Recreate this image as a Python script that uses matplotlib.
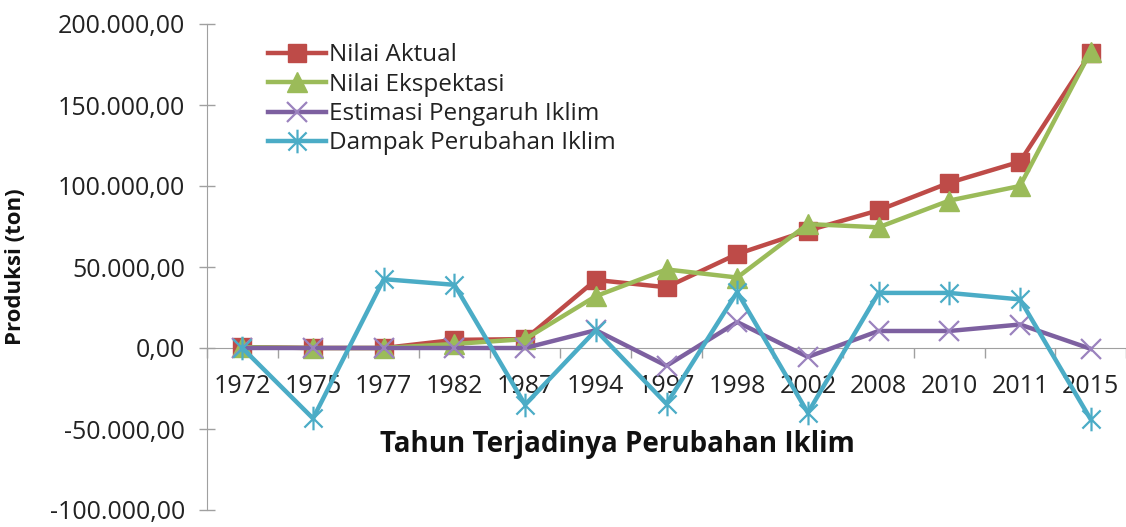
import matplotlib

matplotlib.use("Agg")
import matplotlib.pyplot as plt
from matplotlib.path import Path
from matplotlib.ticker import FixedLocator, FuncFormatter

plt.rcParams["font.family"] = ["Open Sans", "DejaVu Sans"]

years = ["1972", "1975", "1977", "1982", "1987", "1994", "1997",
         "1998", "2002", "2008", "2010", "2011", "2015"]
nilai_aktual = [500, 0, 0, 5000, 5500, 42000, 37500, 58000, 72500, 85000, 102000, 115000, 182000]
nilai_ekspektasi = [500, 0, 0, 2500, 5500, 32000, 48500, 43500, 76500, 74500, 91000, 100000, 183000]
estimasi_iklim = [0, 0, 0, 0, 0, 11000, -11000, 16000, -5500, 10500, 10500, 14500, -500]
dampak_iklim = [0, -43500, 42500, 39000, -35000, 11000, -34500, 34500, -40000, 34000, 34000, 30000, -44000]

labels = ["Nilai Aktual", "Nilai Ekspektasi", "Estimasi Pengaruh Iklim", "Dampak Perubahan Iklim"]
colors = ["#BE4B48", "#9BBB59", "#7D60A0", "#4BACC6"]

star = Path([(-1, -1), (1, 1), (-1, 1), (1, -1), (0, -1.3), (0, 1.3)],
            [Path.MOVETO, Path.LINETO, Path.MOVETO, Path.LINETO, Path.MOVETO, Path.LINETO])


def fmt(v, _):
    s = f"{abs(v):,.2f}".replace(",", "X").replace(".", ",").replace("X", ".")
    return ("-" if v < 0 else "") + s


fig = plt.figure(figsize=(11.26, 5.27), dpi=100)
ax = fig.add_axes([207 / 1126, 17 / 527, 919 / 1126, 486 / 527])

x = list(range(len(years)))
ax.plot(x, nilai_aktual, color=colors[0], lw=3.2, marker="s", ms=13, label=labels[0], zorder=3)
ax.plot(x, nilai_ekspektasi, color=colors[1], lw=3.2, marker="^", ms=14, label=labels[1], zorder=4)
ax.plot(x, estimasi_iklim, color=colors[2], lw=3.2, marker="x", ms=15, mew=1.6,
        mec="#9B82BE", label=labels[2], zorder=5)
ax.plot(x, dampak_iklim, color=colors[3], lw=3.2, marker=star, ms=17, mew=1.6,
        mec="#4BACC6", label=labels[3], zorder=6)

ax.set_xlim(-0.5, len(years) - 0.5)
ax.set_ylim(-100000, 200000)
ax.yaxis.set_major_locator(FixedLocator(range(-100000, 200001, 50000)))
ax.yaxis.set_major_formatter(FuncFormatter(fmt))

ax.set_xticks(x)
ax.set_xticklabels(years)
ax.set_xticks([i - 0.5 for i in range(len(years) + 1)], minor=True)
ax.tick_params(axis="x", which="major", length=0, pad=19, labelsize=18, colors="#222222")
ax.tick_params(axis="x", which="minor", length=7, direction="out", color="#a0a0a0", width=1)
ax.tick_params(axis="y", length=12, direction="inout", color="#a0a0a0", width=1,
               pad=10, labelsize=18, labelcolor="#222222")

for side in ["top", "right"]:
    ax.spines[side].set_visible(False)
ax.spines["left"].set_color("#a0a0a0")
ax.spines["bottom"].set_color("#a0a0a0")
ax.spines["bottom"].set_position(("data", 0))

ax.set_ylabel("Produksi (ton)", fontsize=16, fontweight="bold", color="#111111")
ax.yaxis.set_label_coords(-0.197, 0.5)
ax.text(0.447, 0.135, "Tahun Terjadinya Perubahan Iklim", transform=ax.transAxes,
        ha="center", va="center", fontsize=20, fontweight="bold", color="#111111")

leg = ax.legend(loc="upper left", bbox_to_anchor=(0.053, 0.985), frameon=False, fontsize=17.5,
                handlelength=2.4, handletextpad=0.1, labelspacing=0.22, borderpad=0)
for t in leg.get_texts():
    t.set_color("#222222")

fig.savefig("out.png", dpi=100)
